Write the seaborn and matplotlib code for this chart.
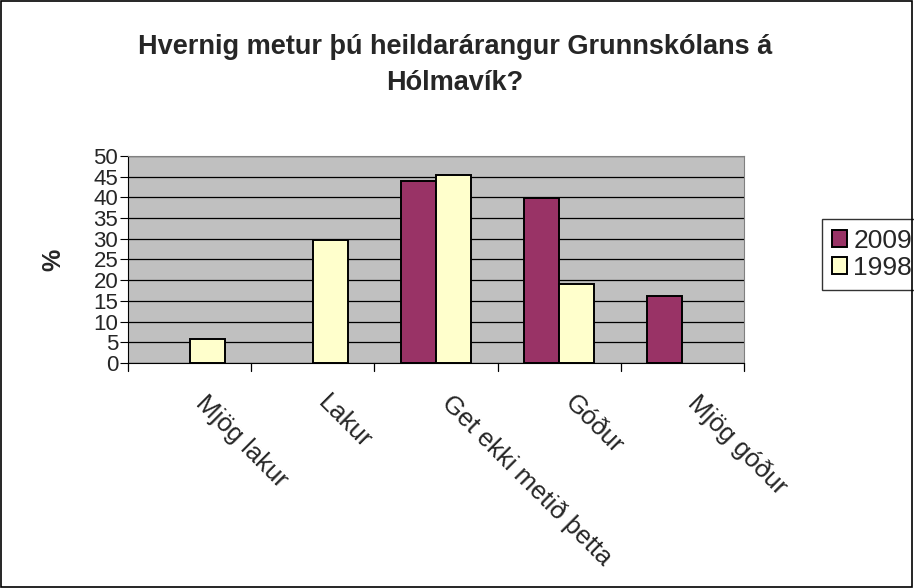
import matplotlib

matplotlib.use("Agg")

import matplotlib.pyplot as plt
import numpy as np
import pandas as pd
import seaborn as sns
from matplotlib.patches import Rectangle
from matplotlib.transforms import ScaledTranslation

CATEGORIES = ["Mjög lakur", "Lakur", "Get ekki metið þetta", "Góður", "Mjög góður"]
YEARS = ["2009", "1998"]
VALUES_2009 = [0, 0, 44.0, 39.8, 16.2]
VALUES_1998 = [5.8, 29.6, 45.3, 19.0, 0]
Y_TICKS = list(range(0, 55, 5))

TITLE = "Hvernig metur þú heildarárangur Grunnskólans á\nHólmavík?"
COLORS = ["#993366", "#FFFFCC"]


def main() -> None:
    sns.set_style("white")
    plt.rcParams["font.family"] = ["Liberation Sans", "DejaVu Sans"]

    df = pd.DataFrame(
        {
            "category": CATEGORIES * 2,
            "year": [YEARS[0]] * len(CATEGORIES) + [YEARS[1]] * len(CATEGORIES),
            "value": VALUES_2009 + VALUES_1998,
        }
    )
    # empty bars are not drawn in the original
    df["value"] = df["value"].replace(0, np.nan)

    fig = plt.figure(figsize=(9.14, 5.88), dpi=100)
    ax = fig.add_axes([0.140, 0.3827, 0.674, 0.352])
    fig.patches.append(
        Rectangle((0.001, 0.001), 0.997, 0.997, transform=fig.transFigure,
                  fill=False, edgecolor="black", linewidth=1.2)
    )

    sns.barplot(
        data=df,
        x="category",
        y="value",
        hue="year",
        order=CATEGORIES,
        hue_order=YEARS,
        palette=COLORS,
        saturation=1,
        width=0.57,
        edgecolor="black",
        linewidth=1.4,
        ax=ax,
    )

    ax.set_facecolor("#C0C0C0")
    ax.set_ylim(0, 50)
    ax.set_xlim(-0.5, len(CATEGORIES) - 0.5)
    ax.set_yticks(Y_TICKS)
    ax.yaxis.grid(True, color="black", linewidth=0.9)
    ax.set_axisbelow(True)
    ax.tick_params(axis="y", labelsize=16, length=6, direction="out", left=True,
                   pad=1, color="black")
    ax.set_yticklabels([str(t) for t in Y_TICKS])

    # category labels at centers, ticks at boundaries
    ax.set_xticks(range(len(CATEGORIES)))
    ax.set_xticklabels(CATEGORIES, rotation=-45, ha="left", va="top",
                       rotation_mode="anchor", fontsize=18.5)
    ax.tick_params(axis="x", length=0, pad=20)
    shift = ScaledTranslation(18 / 100, 0, fig.dpi_scale_trans)
    for lbl in ax.get_xticklabels():
        lbl.set_transform(lbl.get_transform() + shift)
    for b in [i - 0.5 for i in range(len(CATEGORIES) + 1)]:
        ax.plot([b, b], [0, -0.04], transform=ax.get_xaxis_transform(),
                color="black", linewidth=0.9, clip_on=False)

    for side in ["top", "right"]:
        ax.spines[side].set_color("#808080")
    ax.spines["left"].set_color("black")
    ax.spines["bottom"].set_color("black")

    ax.set_xlabel("")
    ax.set_ylabel("%", fontsize=18, fontweight="bold", labelpad=20)

    fig.text(0.498, 0.889, TITLE, ha="center", va="center", fontsize=19.5,
             fontweight="bold", linespacing=1.5)

    ax.legend(
        loc="upper left",
        bbox_to_anchor=(0.8993, 0.6276),
        bbox_transform=fig.transFigure,
        frameon=True,
        fancybox=False,
        edgecolor="black",
        fontsize=19,
        handlelength=0.57,
        handleheight=0.57,
        handletextpad=0.25,
        borderaxespad=0,
        borderpad=0.37,
        labelspacing=0.12,
    )

    fig.savefig("out.png", dpi=100)
    plt.close(fig)


if __name__ == "__main__":
    main()
